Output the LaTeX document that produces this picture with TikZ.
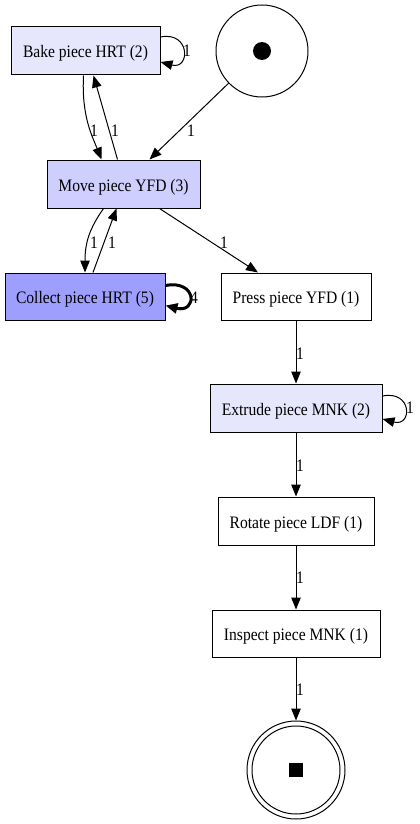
\documentclass[tikz,border=0pt]{standalone}
\usepackage{fontspec}
\setmainfont{Liberation Serif}[FakeStretch=0.89]
\usetikzlibrary{arrows.meta}
\definecolor{cA}{RGB}{230,230,252}
\definecolor{cB}{RGB}{207,207,255}
\definecolor{cC}{RGB}{158,158,255}
\begin{document}
\begin{tikzpicture}[x=1pt,y=-1pt,
  box/.style={draw, line width=1pt, rectangle, minimum height=48pt, inner sep=0pt, text height=14pt, text depth=0pt, font=\fontsize{17.5}{20}\selectfont},
  arr/.style={line width=1pt, -{Triangle[length=12pt,width=9.5pt]}},
  thickarr/.style={line width=3pt, -{Triangle[length=12pt,width=10pt]}},
  lbl/.style={font=\fontsize{17.5}{20}\selectfont, inner sep=0pt}]
\useasboundingbox (0,0) rectangle (420,824);
\node[box, fill=cA, minimum width=149pt] (bake) at (85.5,51) {Bake piece HRT (2)};
\node[circle, draw, line width=1pt, minimum size=92pt, inner sep=0pt] (start) at (262,51) {};
\fill (start.center) circle (9);
\node[box, fill=cB, minimum width=153pt] (move) at (123.5,184) {Move piece YFD (3)};
\node[box, fill=cC, minimum width=160pt, minimum height=47pt] (collect) at (85,296.5) {Collect piece HRT (5)};
\node[box, minimum width=150pt, minimum height=47pt] (press) at (296,296.5) {Press piece YFD (1)};
\node[box, fill=cA, minimum width=172pt] (extrude) at (296,408) {Extrude piece MNK (2)};
\node[box, minimum width=156pt] (rotate) at (296,521) {Rotate piece LDF (1)};
\node[box, minimum width=168pt, minimum height=47pt] (inspect) at (296,633.5) {Inspect piece MNK (1)};
\node[circle, draw, line width=1pt, minimum size=98pt, inner sep=0pt] (end) at (296,770) {};
\draw[line width=1pt] (end.center) circle (44);
\fill ([shift={(-7pt,-7pt)}]end.center) rectangle ([shift={(7pt,7pt)}]end.center);

\draw[arr] ([yshift=14pt]bake.east) .. controls +(30,-6) and +(30,8) .. ([yshift=-11pt]bake.east);
\node[lbl] (l1) at (187,51) {1};
\draw[arr] ([xshift=-2pt]bake.south) .. controls +(-2,40) and +(-10,-25) .. ([xshift=-22pt]move.north);
\node[lbl] (l2) at (94,131) {1};
\draw[arr] ([xshift=-6pt]move.north) -- ([xshift=8pt]bake.south);
\node[lbl] (l3) at (115,131) {1};
\draw[arr] (start) -- ([xshift=26pt]move.north);
\node[lbl] (l4) at (191,131) {1};
\draw[arr] ([xshift=-20pt]move.south) .. controls +(-14,20) and +(0,-30) .. (collect.north);
\node[lbl] (l5) at (94,243) {1};
\draw[arr] ([xshift=8pt]collect.north) -- ([xshift=-7pt]move.south);
\node[lbl] (l6) at (112,243) {1};
\draw[thickarr] ([yshift=11pt]collect.east) .. controls +(32,-6) and +(32,8) .. ([yshift=-9pt]collect.east);
\node[lbl] (l7) at (194,298) {4};
\draw[arr] ([xshift=36pt]move.south) -- ([xshift=-38pt]press.north);
\node[lbl] (l8) at (224,243) {1};
\draw[arr] (press) -- (extrude);
\node[lbl] (l9) at (300,354) {1};
\draw[arr] ([yshift=12pt]extrude.east) .. controls +(30,-6) and +(30,8) .. ([yshift=-11pt]extrude.east);
\node[lbl] (l10) at (410,408) {1};
\draw[arr] (extrude) -- (rotate);
\node[lbl] (l11) at (300,466) {1};
\draw[arr] (rotate) -- (inspect);
\node[lbl] (l12) at (300,578) {1};
\draw[arr] (inspect) -- (end);
\node[lbl] (l13) at (300,690) {1};
\end{tikzpicture}
\end{document}
